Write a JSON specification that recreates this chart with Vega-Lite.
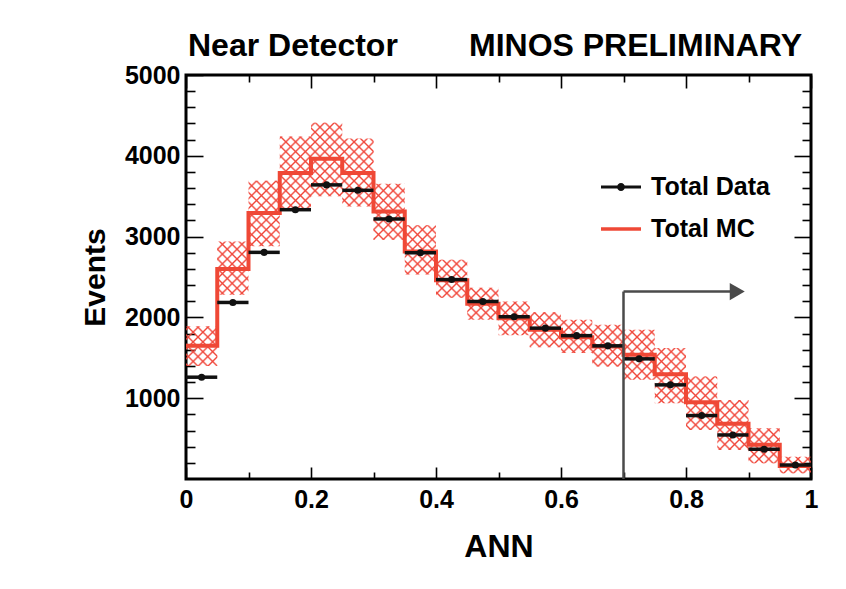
{
  "$schema": "https://vega.github.io/schema/vega-lite/v6.json",
  "width": 625,
  "height": 404,
  "autosize": "none",
  "padding": {"left": 186, "top": 75, "right": 35, "bottom": 110},
  "background": "white",
  "title": {
    "text": "Near Detector\u00a0\u00a0\u00a0\u00a0\u00a0\u00a0\u00a0\u00a0MINOS PRELIMINARY",
    "anchor": "start",
    "frame": "group",
    "font": "Liberation Sans",
    "fontSize": 32,
    "fontWeight": "bold",
    "color": "#000000",
    "offset": 0,
    "dx": 2
  },
  "datasets": {
    "bins": [
      {"ann": 0.025, "lo": 0, "hi": 0.05, "data": 1260, "mc": 1648, "mcLo": 1400, "mcHi": 1890},
      {"ann": 0.075, "lo": 0.05, "hi": 0.1, "data": 2185, "mc": 2600, "mcLo": 2280, "mcHi": 2940},
      {"ann": 0.125, "lo": 0.1, "hi": 0.15, "data": 2805, "mc": 3292, "mcLo": 2880, "mcHi": 3690},
      {"ann": 0.175, "lo": 0.15, "hi": 0.2, "data": 3333, "mc": 3788, "mcLo": 3340, "mcHi": 4240},
      {"ann": 0.225, "lo": 0.2, "hi": 0.25, "data": 3640, "mc": 3965, "mcLo": 3500, "mcHi": 4410},
      {"ann": 0.275, "lo": 0.25, "hi": 0.3, "data": 3573, "mc": 3788, "mcLo": 3374, "mcHi": 4213},
      {"ann": 0.325, "lo": 0.3, "hi": 0.35, "data": 3218, "mc": 3312, "mcLo": 2962, "mcHi": 3655},
      {"ann": 0.375, "lo": 0.35, "hi": 0.4, "data": 2800, "mc": 2817, "mcLo": 2530, "mcHi": 3140},
      {"ann": 0.425, "lo": 0.4, "hi": 0.45, "data": 2468, "mc": 2460, "mcLo": 2243, "mcHi": 2714},
      {"ann": 0.475, "lo": 0.45, "hi": 0.5, "data": 2197, "mc": 2168, "mcLo": 1970, "mcHi": 2367},
      {"ann": 0.525, "lo": 0.5, "hi": 0.55, "data": 2008, "mc": 1990, "mcLo": 1780, "mcHi": 2197},
      {"ann": 0.575, "lo": 0.55, "hi": 0.6, "data": 1867, "mc": 1848, "mcLo": 1630, "mcHi": 2063},
      {"ann": 0.625, "lo": 0.6, "hi": 0.65, "data": 1774, "mc": 1755, "mcLo": 1558, "mcHi": 1970},
      {"ann": 0.675, "lo": 0.65, "hi": 0.7, "data": 1648, "mc": 1640, "mcLo": 1392, "mcHi": 1908},
      {"ann": 0.725, "lo": 0.7, "hi": 0.75, "data": 1487, "mc": 1537, "mcLo": 1227, "mcHi": 1846},
      {"ann": 0.775, "lo": 0.75, "hi": 0.8, "data": 1165, "mc": 1295, "mcLo": 938, "mcHi": 1620},
      {"ann": 0.825, "lo": 0.8, "hi": 0.85, "data": 785, "mc": 950, "mcLo": 607, "mcHi": 1268},
      {"ann": 0.875, "lo": 0.85, "hi": 0.9, "data": 545, "mc": 685, "mcLo": 359, "mcHi": 979},
      {"ann": 0.925, "lo": 0.9, "hi": 0.95, "data": 368, "mc": 425, "mcLo": 195, "mcHi": 628},
      {"ann": 0.975, "lo": 0.95, "hi": 1, "data": 173, "mc": 160, "mcLo": 70, "mcHi": 276}
    ],
    "arrow": [
      {"x0": 0.7, "x1": 0.7, "y0": 0, "y1": 2320},
      {"x0": 0.7, "x1": 0.872, "y0": 2320, "y1": 2320}
    ],
    "head": [
      {"ann": 0.882, "events": 2320}
    ]
  },
  "data": {"name": "bins"},
  "layer": [
    {
      "transform": [{"fold": ["lo", "hi"], "as": ["edge", "xpos"]}],
      "mark": {"type": "area", "strokeWidth": 0, "fill": {"gradient": "linear", "x1": 0, "y1": 0, "x2": 1.1873, "y2": 0.6661, "stops": [
{"offset":0,"color":"rgba(240,70,58,0)"},{"offset":0.002,"color":"#f0463a"},{"offset":0.004,"color":"rgba(240,70,58,0)"},
{"offset":0.01,"color":"rgba(240,70,58,0)"},{"offset":0.012,"color":"#f0463a"},{"offset":0.014,"color":"rgba(240,70,58,0)"},
{"offset":0.02,"color":"rgba(240,70,58,0)"},{"offset":0.022,"color":"#f0463a"},{"offset":0.024,"color":"rgba(240,70,58,0)"},
{"offset":0.03,"color":"rgba(240,70,58,0)"},{"offset":0.032,"color":"#f0463a"},{"offset":0.034,"color":"rgba(240,70,58,0)"},
{"offset":0.04,"color":"rgba(240,70,58,0)"},{"offset":0.042,"color":"#f0463a"},{"offset":0.044,"color":"rgba(240,70,58,0)"},
{"offset":0.05,"color":"rgba(240,70,58,0)"},{"offset":0.052,"color":"#f0463a"},{"offset":0.054,"color":"rgba(240,70,58,0)"},
{"offset":0.06,"color":"rgba(240,70,58,0)"},{"offset":0.062,"color":"#f0463a"},{"offset":0.064,"color":"rgba(240,70,58,0)"},
{"offset":0.07,"color":"rgba(240,70,58,0)"},{"offset":0.072,"color":"#f0463a"},{"offset":0.074,"color":"rgba(240,70,58,0)"},
{"offset":0.08,"color":"rgba(240,70,58,0)"},{"offset":0.082,"color":"#f0463a"},{"offset":0.084,"color":"rgba(240,70,58,0)"},
{"offset":0.09,"color":"rgba(240,70,58,0)"},{"offset":0.092,"color":"#f0463a"},{"offset":0.094,"color":"rgba(240,70,58,0)"},
{"offset":0.1,"color":"rgba(240,70,58,0)"},{"offset":0.102,"color":"#f0463a"},{"offset":0.104,"color":"rgba(240,70,58,0)"},
{"offset":0.11,"color":"rgba(240,70,58,0)"},{"offset":0.112,"color":"#f0463a"},{"offset":0.114,"color":"rgba(240,70,58,0)"},
{"offset":0.12,"color":"rgba(240,70,58,0)"},{"offset":0.122,"color":"#f0463a"},{"offset":0.124,"color":"rgba(240,70,58,0)"},
{"offset":0.13,"color":"rgba(240,70,58,0)"},{"offset":0.132,"color":"#f0463a"},{"offset":0.134,"color":"rgba(240,70,58,0)"},
{"offset":0.14,"color":"rgba(240,70,58,0)"},{"offset":0.142,"color":"#f0463a"},{"offset":0.144,"color":"rgba(240,70,58,0)"},
{"offset":0.15,"color":"rgba(240,70,58,0)"},{"offset":0.152,"color":"#f0463a"},{"offset":0.154,"color":"rgba(240,70,58,0)"},
{"offset":0.16,"color":"rgba(240,70,58,0)"},{"offset":0.162,"color":"#f0463a"},{"offset":0.164,"color":"rgba(240,70,58,0)"},
{"offset":0.17,"color":"rgba(240,70,58,0)"},{"offset":0.172,"color":"#f0463a"},{"offset":0.174,"color":"rgba(240,70,58,0)"},
{"offset":0.18,"color":"rgba(240,70,58,0)"},{"offset":0.182,"color":"#f0463a"},{"offset":0.184,"color":"rgba(240,70,58,0)"},
{"offset":0.19,"color":"rgba(240,70,58,0)"},{"offset":0.192,"color":"#f0463a"},{"offset":0.194,"color":"rgba(240,70,58,0)"},
{"offset":0.2,"color":"rgba(240,70,58,0)"},{"offset":0.202,"color":"#f0463a"},{"offset":0.204,"color":"rgba(240,70,58,0)"},
{"offset":0.21,"color":"rgba(240,70,58,0)"},{"offset":0.212,"color":"#f0463a"},{"offset":0.214,"color":"rgba(240,70,58,0)"},
{"offset":0.22,"color":"rgba(240,70,58,0)"},{"offset":0.222,"color":"#f0463a"},{"offset":0.224,"color":"rgba(240,70,58,0)"},
{"offset":0.23,"color":"rgba(240,70,58,0)"},{"offset":0.232,"color":"#f0463a"},{"offset":0.234,"color":"rgba(240,70,58,0)"},
{"offset":0.24,"color":"rgba(240,70,58,0)"},{"offset":0.242,"color":"#f0463a"},{"offset":0.244,"color":"rgba(240,70,58,0)"},
{"offset":0.25,"color":"rgba(240,70,58,0)"},{"offset":0.252,"color":"#f0463a"},{"offset":0.254,"color":"rgba(240,70,58,0)"},
{"offset":0.26,"color":"rgba(240,70,58,0)"},{"offset":0.262,"color":"#f0463a"},{"offset":0.264,"color":"rgba(240,70,58,0)"},
{"offset":0.27,"color":"rgba(240,70,58,0)"},{"offset":0.272,"color":"#f0463a"},{"offset":0.274,"color":"rgba(240,70,58,0)"},
{"offset":0.28,"color":"rgba(240,70,58,0)"},{"offset":0.282,"color":"#f0463a"},{"offset":0.284,"color":"rgba(240,70,58,0)"},
{"offset":0.29,"color":"rgba(240,70,58,0)"},{"offset":0.292,"color":"#f0463a"},{"offset":0.294,"color":"rgba(240,70,58,0)"},
{"offset":0.3,"color":"rgba(240,70,58,0)"},{"offset":0.302,"color":"#f0463a"},{"offset":0.304,"color":"rgba(240,70,58,0)"},
{"offset":0.31,"color":"rgba(240,70,58,0)"},{"offset":0.312,"color":"#f0463a"},{"offset":0.314,"color":"rgba(240,70,58,0)"},
{"offset":0.32,"color":"rgba(240,70,58,0)"},{"offset":0.322,"color":"#f0463a"},{"offset":0.324,"color":"rgba(240,70,58,0)"},
{"offset":0.33,"color":"rgba(240,70,58,0)"},{"offset":0.332,"color":"#f0463a"},{"offset":0.334,"color":"rgba(240,70,58,0)"},
{"offset":0.34,"color":"rgba(240,70,58,0)"},{"offset":0.342,"color":"#f0463a"},{"offset":0.344,"color":"rgba(240,70,58,0)"},
{"offset":0.35,"color":"rgba(240,70,58,0)"},{"offset":0.352,"color":"#f0463a"},{"offset":0.354,"color":"rgba(240,70,58,0)"},
{"offset":0.36,"color":"rgba(240,70,58,0)"},{"offset":0.362,"color":"#f0463a"},{"offset":0.364,"color":"rgba(240,70,58,0)"},
{"offset":0.37,"color":"rgba(240,70,58,0)"},{"offset":0.372,"color":"#f0463a"},{"offset":0.374,"color":"rgba(240,70,58,0)"},
{"offset":0.38,"color":"rgba(240,70,58,0)"},{"offset":0.382,"color":"#f0463a"},{"offset":0.384,"color":"rgba(240,70,58,0)"},
{"offset":0.39,"color":"rgba(240,70,58,0)"},{"offset":0.392,"color":"#f0463a"},{"offset":0.394,"color":"rgba(240,70,58,0)"},
{"offset":0.4,"color":"rgba(240,70,58,0)"},{"offset":0.402,"color":"#f0463a"},{"offset":0.404,"color":"rgba(240,70,58,0)"},
{"offset":0.41,"color":"rgba(240,70,58,0)"},{"offset":0.412,"color":"#f0463a"},{"offset":0.414,"color":"rgba(240,70,58,0)"},
{"offset":0.42,"color":"rgba(240,70,58,0)"},{"offset":0.422,"color":"#f0463a"},{"offset":0.424,"color":"rgba(240,70,58,0)"},
{"offset":0.43,"color":"rgba(240,70,58,0)"},{"offset":0.432,"color":"#f0463a"},{"offset":0.434,"color":"rgba(240,70,58,0)"},
{"offset":0.44,"color":"rgba(240,70,58,0)"},{"offset":0.442,"color":"#f0463a"},{"offset":0.444,"color":"rgba(240,70,58,0)"},
{"offset":0.45,"color":"rgba(240,70,58,0)"},{"offset":0.452,"color":"#f0463a"},{"offset":0.454,"color":"rgba(240,70,58,0)"},
{"offset":0.46,"color":"rgba(240,70,58,0)"},{"offset":0.462,"color":"#f0463a"},{"offset":0.464,"color":"rgba(240,70,58,0)"},
{"offset":0.47,"color":"rgba(240,70,58,0)"},{"offset":0.472,"color":"#f0463a"},{"offset":0.474,"color":"rgba(240,70,58,0)"},
{"offset":0.48,"color":"rgba(240,70,58,0)"},{"offset":0.482,"color":"#f0463a"},{"offset":0.484,"color":"rgba(240,70,58,0)"},
{"offset":0.49,"color":"rgba(240,70,58,0)"},{"offset":0.492,"color":"#f0463a"},{"offset":0.494,"color":"rgba(240,70,58,0)"},
{"offset":0.5,"color":"rgba(240,70,58,0)"},{"offset":0.502,"color":"#f0463a"},{"offset":0.504,"color":"rgba(240,70,58,0)"},
{"offset":0.51,"color":"rgba(240,70,58,0)"},{"offset":0.512,"color":"#f0463a"},{"offset":0.514,"color":"rgba(240,70,58,0)"},
{"offset":0.52,"color":"rgba(240,70,58,0)"},{"offset":0.522,"color":"#f0463a"},{"offset":0.524,"color":"rgba(240,70,58,0)"},
{"offset":0.53,"color":"rgba(240,70,58,0)"},{"offset":0.532,"color":"#f0463a"},{"offset":0.534,"color":"rgba(240,70,58,0)"},
{"offset":0.54,"color":"rgba(240,70,58,0)"},{"offset":0.542,"color":"#f0463a"},{"offset":0.544,"color":"rgba(240,70,58,0)"},
{"offset":0.55,"color":"rgba(240,70,58,0)"},{"offset":0.552,"color":"#f0463a"},{"offset":0.554,"color":"rgba(240,70,58,0)"},
{"offset":0.56,"color":"rgba(240,70,58,0)"},{"offset":0.562,"color":"#f0463a"},{"offset":0.564,"color":"rgba(240,70,58,0)"},
{"offset":0.57,"color":"rgba(240,70,58,0)"},{"offset":0.572,"color":"#f0463a"},{"offset":0.574,"color":"rgba(240,70,58,0)"},
{"offset":0.58,"color":"rgba(240,70,58,0)"},{"offset":0.582,"color":"#f0463a"},{"offset":0.584,"color":"rgba(240,70,58,0)"},
{"offset":0.59,"color":"rgba(240,70,58,0)"},{"offset":0.592,"color":"#f0463a"},{"offset":0.594,"color":"rgba(240,70,58,0)"},
{"offset":0.6,"color":"rgba(240,70,58,0)"},{"offset":0.602,"color":"#f0463a"},{"offset":0.604,"color":"rgba(240,70,58,0)"},
{"offset":0.61,"color":"rgba(240,70,58,0)"},{"offset":0.612,"color":"#f0463a"},{"offset":0.614,"color":"rgba(240,70,58,0)"},
{"offset":0.62,"color":"rgba(240,70,58,0)"},{"offset":0.622,"color":"#f0463a"},{"offset":0.624,"color":"rgba(240,70,58,0)"},
{"offset":0.63,"color":"rgba(240,70,58,0)"},{"offset":0.632,"color":"#f0463a"},{"offset":0.634,"color":"rgba(240,70,58,0)"},
{"offset":0.64,"color":"rgba(240,70,58,0)"},{"offset":0.642,"color":"#f0463a"},{"offset":0.644,"color":"rgba(240,70,58,0)"},
{"offset":0.65,"color":"rgba(240,70,58,0)"},{"offset":0.652,"color":"#f0463a"},{"offset":0.654,"color":"rgba(240,70,58,0)"},
{"offset":0.66,"color":"rgba(240,70,58,0)"},{"offset":0.662,"color":"#f0463a"},{"offset":0.664,"color":"rgba(240,70,58,0)"},
{"offset":0.67,"color":"rgba(240,70,58,0)"},{"offset":0.672,"color":"#f0463a"},{"offset":0.674,"color":"rgba(240,70,58,0)"},
{"offset":0.68,"color":"rgba(240,70,58,0)"},{"offset":0.682,"color":"#f0463a"},{"offset":0.684,"color":"rgba(240,70,58,0)"},
{"offset":0.69,"color":"rgba(240,70,58,0)"},{"offset":0.692,"color":"#f0463a"},{"offset":0.694,"color":"rgba(240,70,58,0)"},
{"offset":0.7,"color":"rgba(240,70,58,0)"},{"offset":0.702,"color":"#f0463a"},{"offset":0.704,"color":"rgba(240,70,58,0)"},
{"offset":0.71,"color":"rgba(240,70,58,0)"},{"offset":0.712,"color":"#f0463a"},{"offset":0.714,"color":"rgba(240,70,58,0)"},
{"offset":0.72,"color":"rgba(240,70,58,0)"},{"offset":0.722,"color":"#f0463a"},{"offset":0.724,"color":"rgba(240,70,58,0)"},
{"offset":0.73,"color":"rgba(240,70,58,0)"},{"offset":0.732,"color":"#f0463a"},{"offset":0.734,"color":"rgba(240,70,58,0)"},
{"offset":0.74,"color":"rgba(240,70,58,0)"},{"offset":0.742,"color":"#f0463a"},{"offset":0.744,"color":"rgba(240,70,58,0)"},
{"offset":0.75,"color":"rgba(240,70,58,0)"},{"offset":0.752,"color":"#f0463a"},{"offset":0.754,"color":"rgba(240,70,58,0)"},
{"offset":0.76,"color":"rgba(240,70,58,0)"},{"offset":0.762,"color":"#f0463a"},{"offset":0.764,"color":"rgba(240,70,58,0)"},
{"offset":0.77,"color":"rgba(240,70,58,0)"},{"offset":0.772,"color":"#f0463a"},{"offset":0.774,"color":"rgba(240,70,58,0)"},
{"offset":0.78,"color":"rgba(240,70,58,0)"},{"offset":0.782,"color":"#f0463a"},{"offset":0.784,"color":"rgba(240,70,58,0)"},
{"offset":0.79,"color":"rgba(240,70,58,0)"},{"offset":0.792,"color":"#f0463a"},{"offset":0.794,"color":"rgba(240,70,58,0)"},
{"offset":0.8,"color":"rgba(240,70,58,0)"},{"offset":0.802,"color":"#f0463a"},{"offset":0.804,"color":"rgba(240,70,58,0)"},
{"offset":0.81,"color":"rgba(240,70,58,0)"},{"offset":0.812,"color":"#f0463a"},{"offset":0.814,"color":"rgba(240,70,58,0)"},
{"offset":0.82,"color":"rgba(240,70,58,0)"},{"offset":0.822,"color":"#f0463a"},{"offset":0.824,"color":"rgba(240,70,58,0)"},
{"offset":0.83,"color":"rgba(240,70,58,0)"},{"offset":0.832,"color":"#f0463a"},{"offset":0.834,"color":"rgba(240,70,58,0)"},
{"offset":0.84,"color":"rgba(240,70,58,0)"},{"offset":0.842,"color":"#f0463a"},{"offset":0.844,"color":"rgba(240,70,58,0)"},
{"offset":0.85,"color":"rgba(240,70,58,0)"},{"offset":0.852,"color":"#f0463a"},{"offset":0.854,"color":"rgba(240,70,58,0)"},
{"offset":0.86,"color":"rgba(240,70,58,0)"},{"offset":0.862,"color":"#f0463a"},{"offset":0.864,"color":"rgba(240,70,58,0)"},
{"offset":0.87,"color":"rgba(240,70,58,0)"},{"offset":0.872,"color":"#f0463a"},{"offset":0.874,"color":"rgba(240,70,58,0)"},
{"offset":0.88,"color":"rgba(240,70,58,0)"},{"offset":0.882,"color":"#f0463a"},{"offset":0.884,"color":"rgba(240,70,58,0)"},
{"offset":0.89,"color":"rgba(240,70,58,0)"},{"offset":0.892,"color":"#f0463a"},{"offset":0.894,"color":"rgba(240,70,58,0)"},
{"offset":0.9,"color":"rgba(240,70,58,0)"},{"offset":0.902,"color":"#f0463a"},{"offset":0.904,"color":"rgba(240,70,58,0)"},
{"offset":0.91,"color":"rgba(240,70,58,0)"},{"offset":0.912,"color":"#f0463a"},{"offset":0.914,"color":"rgba(240,70,58,0)"},
{"offset":0.92,"color":"rgba(240,70,58,0)"},{"offset":0.922,"color":"#f0463a"},{"offset":0.924,"color":"rgba(240,70,58,0)"},
{"offset":0.93,"color":"rgba(240,70,58,0)"},{"offset":0.932,"color":"#f0463a"},{"offset":0.934,"color":"rgba(240,70,58,0)"},
{"offset":0.94,"color":"rgba(240,70,58,0)"},{"offset":0.942,"color":"#f0463a"},{"offset":0.944,"color":"rgba(240,70,58,0)"},
{"offset":0.95,"color":"rgba(240,70,58,0)"},{"offset":0.952,"color":"#f0463a"},{"offset":0.954,"color":"rgba(240,70,58,0)"},
{"offset":0.96,"color":"rgba(240,70,58,0)"},{"offset":0.962,"color":"#f0463a"},{"offset":0.964,"color":"rgba(240,70,58,0)"},
{"offset":0.97,"color":"rgba(240,70,58,0)"},{"offset":0.972,"color":"#f0463a"},{"offset":0.974,"color":"rgba(240,70,58,0)"},
{"offset":0.98,"color":"rgba(240,70,58,0)"},{"offset":0.982,"color":"#f0463a"},{"offset":0.984,"color":"rgba(240,70,58,0)"},
{"offset":0.99,"color":"rgba(240,70,58,0)"},{"offset":0.992,"color":"#f0463a"},{"offset":0.994,"color":"rgba(240,70,58,0)"}
      ]}},
      "encoding": {
        "x": {
          "field": "xpos", "type": "quantitative",
          "scale": {"domain": [0, 1], "nice": false, "zero": false},
          "axis": {
            "orient": "bottom", "values": [0, 0.2, 0.4, 0.6, 0.8, 1], "format": "~g",
            "tickSize": -12, "labelPadding": 20, "labelFlush": false, "labelOverlap": false,
            "title": "ANN", "titleFontSize": 32, "titlePadding": 19
          }
        },
        "y": {
          "field": "mcLo", "type": "quantitative",
          "scale": {"domain": [0, 5000], "nice": false, "zero": true},
          "axis": {
            "orient": "left", "values": [1000, 2000, 3000, 4000, 5000], "format": "d",
            "tickSize": -17, "labelPadding": 23, "labelOverlap": false,
            "title": "Events", "titleFontSize": 30, "titlePadding": 14
          }
        },
        "y2": {"field": "mcHi"},
        "order": [
          {"field": "xpos", "type": "quantitative"},
          {"field": "edge", "type": "nominal"}
        ]
      }
    },
    {
      "transform": [{"fold": ["lo", "hi"], "as": ["edge", "xpos"]}],
      "mark": {"type": "area", "strokeWidth": 0, "fill": {"gradient": "linear", "x1": 0, "y1": 1, "x2": 1.1873, "y2": 0.3339, "stops": [
{"offset":0,"color":"rgba(240,70,58,0)"},{"offset":0.002,"color":"#f0463a"},{"offset":0.004,"color":"rgba(240,70,58,0)"},
{"offset":0.01,"color":"rgba(240,70,58,0)"},{"offset":0.012,"color":"#f0463a"},{"offset":0.014,"color":"rgba(240,70,58,0)"},
{"offset":0.02,"color":"rgba(240,70,58,0)"},{"offset":0.022,"color":"#f0463a"},{"offset":0.024,"color":"rgba(240,70,58,0)"},
{"offset":0.03,"color":"rgba(240,70,58,0)"},{"offset":0.032,"color":"#f0463a"},{"offset":0.034,"color":"rgba(240,70,58,0)"},
{"offset":0.04,"color":"rgba(240,70,58,0)"},{"offset":0.042,"color":"#f0463a"},{"offset":0.044,"color":"rgba(240,70,58,0)"},
{"offset":0.05,"color":"rgba(240,70,58,0)"},{"offset":0.052,"color":"#f0463a"},{"offset":0.054,"color":"rgba(240,70,58,0)"},
{"offset":0.06,"color":"rgba(240,70,58,0)"},{"offset":0.062,"color":"#f0463a"},{"offset":0.064,"color":"rgba(240,70,58,0)"},
{"offset":0.07,"color":"rgba(240,70,58,0)"},{"offset":0.072,"color":"#f0463a"},{"offset":0.074,"color":"rgba(240,70,58,0)"},
{"offset":0.08,"color":"rgba(240,70,58,0)"},{"offset":0.082,"color":"#f0463a"},{"offset":0.084,"color":"rgba(240,70,58,0)"},
{"offset":0.09,"color":"rgba(240,70,58,0)"},{"offset":0.092,"color":"#f0463a"},{"offset":0.094,"color":"rgba(240,70,58,0)"},
{"offset":0.1,"color":"rgba(240,70,58,0)"},{"offset":0.102,"color":"#f0463a"},{"offset":0.104,"color":"rgba(240,70,58,0)"},
{"offset":0.11,"color":"rgba(240,70,58,0)"},{"offset":0.112,"color":"#f0463a"},{"offset":0.114,"color":"rgba(240,70,58,0)"},
{"offset":0.12,"color":"rgba(240,70,58,0)"},{"offset":0.122,"color":"#f0463a"},{"offset":0.124,"color":"rgba(240,70,58,0)"},
{"offset":0.13,"color":"rgba(240,70,58,0)"},{"offset":0.132,"color":"#f0463a"},{"offset":0.134,"color":"rgba(240,70,58,0)"},
{"offset":0.14,"color":"rgba(240,70,58,0)"},{"offset":0.142,"color":"#f0463a"},{"offset":0.144,"color":"rgba(240,70,58,0)"},
{"offset":0.15,"color":"rgba(240,70,58,0)"},{"offset":0.152,"color":"#f0463a"},{"offset":0.154,"color":"rgba(240,70,58,0)"},
{"offset":0.16,"color":"rgba(240,70,58,0)"},{"offset":0.162,"color":"#f0463a"},{"offset":0.164,"color":"rgba(240,70,58,0)"},
{"offset":0.17,"color":"rgba(240,70,58,0)"},{"offset":0.172,"color":"#f0463a"},{"offset":0.174,"color":"rgba(240,70,58,0)"},
{"offset":0.18,"color":"rgba(240,70,58,0)"},{"offset":0.182,"color":"#f0463a"},{"offset":0.184,"color":"rgba(240,70,58,0)"},
{"offset":0.19,"color":"rgba(240,70,58,0)"},{"offset":0.192,"color":"#f0463a"},{"offset":0.194,"color":"rgba(240,70,58,0)"},
{"offset":0.2,"color":"rgba(240,70,58,0)"},{"offset":0.202,"color":"#f0463a"},{"offset":0.204,"color":"rgba(240,70,58,0)"},
{"offset":0.21,"color":"rgba(240,70,58,0)"},{"offset":0.212,"color":"#f0463a"},{"offset":0.214,"color":"rgba(240,70,58,0)"},
{"offset":0.22,"color":"rgba(240,70,58,0)"},{"offset":0.222,"color":"#f0463a"},{"offset":0.224,"color":"rgba(240,70,58,0)"},
{"offset":0.23,"color":"rgba(240,70,58,0)"},{"offset":0.232,"color":"#f0463a"},{"offset":0.234,"color":"rgba(240,70,58,0)"},
{"offset":0.24,"color":"rgba(240,70,58,0)"},{"offset":0.242,"color":"#f0463a"},{"offset":0.244,"color":"rgba(240,70,58,0)"},
{"offset":0.25,"color":"rgba(240,70,58,0)"},{"offset":0.252,"color":"#f0463a"},{"offset":0.254,"color":"rgba(240,70,58,0)"},
{"offset":0.26,"color":"rgba(240,70,58,0)"},{"offset":0.262,"color":"#f0463a"},{"offset":0.264,"color":"rgba(240,70,58,0)"},
{"offset":0.27,"color":"rgba(240,70,58,0)"},{"offset":0.272,"color":"#f0463a"},{"offset":0.274,"color":"rgba(240,70,58,0)"},
{"offset":0.28,"color":"rgba(240,70,58,0)"},{"offset":0.282,"color":"#f0463a"},{"offset":0.284,"color":"rgba(240,70,58,0)"},
{"offset":0.29,"color":"rgba(240,70,58,0)"},{"offset":0.292,"color":"#f0463a"},{"offset":0.294,"color":"rgba(240,70,58,0)"},
{"offset":0.3,"color":"rgba(240,70,58,0)"},{"offset":0.302,"color":"#f0463a"},{"offset":0.304,"color":"rgba(240,70,58,0)"},
{"offset":0.31,"color":"rgba(240,70,58,0)"},{"offset":0.312,"color":"#f0463a"},{"offset":0.314,"color":"rgba(240,70,58,0)"},
{"offset":0.32,"color":"rgba(240,70,58,0)"},{"offset":0.322,"color":"#f0463a"},{"offset":0.324,"color":"rgba(240,70,58,0)"},
{"offset":0.33,"color":"rgba(240,70,58,0)"},{"offset":0.332,"color":"#f0463a"},{"offset":0.334,"color":"rgba(240,70,58,0)"},
{"offset":0.34,"color":"rgba(240,70,58,0)"},{"offset":0.342,"color":"#f0463a"},{"offset":0.344,"color":"rgba(240,70,58,0)"},
{"offset":0.35,"color":"rgba(240,70,58,0)"},{"offset":0.352,"color":"#f0463a"},{"offset":0.354,"color":"rgba(240,70,58,0)"},
{"offset":0.36,"color":"rgba(240,70,58,0)"},{"offset":0.362,"color":"#f0463a"},{"offset":0.364,"color":"rgba(240,70,58,0)"},
{"offset":0.37,"color":"rgba(240,70,58,0)"},{"offset":0.372,"color":"#f0463a"},{"offset":0.374,"color":"rgba(240,70,58,0)"},
{"offset":0.38,"color":"rgba(240,70,58,0)"},{"offset":0.382,"color":"#f0463a"},{"offset":0.384,"color":"rgba(240,70,58,0)"},
{"offset":0.39,"color":"rgba(240,70,58,0)"},{"offset":0.392,"color":"#f0463a"},{"offset":0.394,"color":"rgba(240,70,58,0)"},
{"offset":0.4,"color":"rgba(240,70,58,0)"},{"offset":0.402,"color":"#f0463a"},{"offset":0.404,"color":"rgba(240,70,58,0)"},
{"offset":0.41,"color":"rgba(240,70,58,0)"},{"offset":0.412,"color":"#f0463a"},{"offset":0.414,"color":"rgba(240,70,58,0)"},
{"offset":0.42,"color":"rgba(240,70,58,0)"},{"offset":0.422,"color":"#f0463a"},{"offset":0.424,"color":"rgba(240,70,58,0)"},
{"offset":0.43,"color":"rgba(240,70,58,0)"},{"offset":0.432,"color":"#f0463a"},{"offset":0.434,"color":"rgba(240,70,58,0)"},
{"offset":0.44,"color":"rgba(240,70,58,0)"},{"offset":0.442,"color":"#f0463a"},{"offset":0.444,"color":"rgba(240,70,58,0)"},
{"offset":0.45,"color":"rgba(240,70,58,0)"},{"offset":0.452,"color":"#f0463a"},{"offset":0.454,"color":"rgba(240,70,58,0)"},
{"offset":0.46,"color":"rgba(240,70,58,0)"},{"offset":0.462,"color":"#f0463a"},{"offset":0.464,"color":"rgba(240,70,58,0)"},
{"offset":0.47,"color":"rgba(240,70,58,0)"},{"offset":0.472,"color":"#f0463a"},{"offset":0.474,"color":"rgba(240,70,58,0)"},
{"offset":0.48,"color":"rgba(240,70,58,0)"},{"offset":0.482,"color":"#f0463a"},{"offset":0.484,"color":"rgba(240,70,58,0)"},
{"offset":0.49,"color":"rgba(240,70,58,0)"},{"offset":0.492,"color":"#f0463a"},{"offset":0.494,"color":"rgba(240,70,58,0)"},
{"offset":0.5,"color":"rgba(240,70,58,0)"},{"offset":0.502,"color":"#f0463a"},{"offset":0.504,"color":"rgba(240,70,58,0)"},
{"offset":0.51,"color":"rgba(240,70,58,0)"},{"offset":0.512,"color":"#f0463a"},{"offset":0.514,"color":"rgba(240,70,58,0)"},
{"offset":0.52,"color":"rgba(240,70,58,0)"},{"offset":0.522,"color":"#f0463a"},{"offset":0.524,"color":"rgba(240,70,58,0)"},
{"offset":0.53,"color":"rgba(240,70,58,0)"},{"offset":0.532,"color":"#f0463a"},{"offset":0.534,"color":"rgba(240,70,58,0)"},
{"offset":0.54,"color":"rgba(240,70,58,0)"},{"offset":0.542,"color":"#f0463a"},{"offset":0.544,"color":"rgba(240,70,58,0)"},
{"offset":0.55,"color":"rgba(240,70,58,0)"},{"offset":0.552,"color":"#f0463a"},{"offset":0.554,"color":"rgba(240,70,58,0)"},
{"offset":0.56,"color":"rgba(240,70,58,0)"},{"offset":0.562,"color":"#f0463a"},{"offset":0.564,"color":"rgba(240,70,58,0)"},
{"offset":0.57,"color":"rgba(240,70,58,0)"},{"offset":0.572,"color":"#f0463a"},{"offset":0.574,"color":"rgba(240,70,58,0)"},
{"offset":0.58,"color":"rgba(240,70,58,0)"},{"offset":0.582,"color":"#f0463a"},{"offset":0.584,"color":"rgba(240,70,58,0)"},
{"offset":0.59,"color":"rgba(240,70,58,0)"},{"offset":0.592,"color":"#f0463a"},{"offset":0.594,"color":"rgba(240,70,58,0)"},
{"offset":0.6,"color":"rgba(240,70,58,0)"},{"offset":0.602,"color":"#f0463a"},{"offset":0.604,"color":"rgba(240,70,58,0)"},
{"offset":0.61,"color":"rgba(240,70,58,0)"},{"offset":0.612,"color":"#f0463a"},{"offset":0.614,"color":"rgba(240,70,58,0)"},
{"offset":0.62,"color":"rgba(240,70,58,0)"},{"offset":0.622,"color":"#f0463a"},{"offset":0.624,"color":"rgba(240,70,58,0)"},
{"offset":0.63,"color":"rgba(240,70,58,0)"},{"offset":0.632,"color":"#f0463a"},{"offset":0.634,"color":"rgba(240,70,58,0)"},
{"offset":0.64,"color":"rgba(240,70,58,0)"},{"offset":0.642,"color":"#f0463a"},{"offset":0.644,"color":"rgba(240,70,58,0)"},
{"offset":0.65,"color":"rgba(240,70,58,0)"},{"offset":0.652,"color":"#f0463a"},{"offset":0.654,"color":"rgba(240,70,58,0)"},
{"offset":0.66,"color":"rgba(240,70,58,0)"},{"offset":0.662,"color":"#f0463a"},{"offset":0.664,"color":"rgba(240,70,58,0)"},
{"offset":0.67,"color":"rgba(240,70,58,0)"},{"offset":0.672,"color":"#f0463a"},{"offset":0.674,"color":"rgba(240,70,58,0)"},
{"offset":0.68,"color":"rgba(240,70,58,0)"},{"offset":0.682,"color":"#f0463a"},{"offset":0.684,"color":"rgba(240,70,58,0)"},
{"offset":0.69,"color":"rgba(240,70,58,0)"},{"offset":0.692,"color":"#f0463a"},{"offset":0.694,"color":"rgba(240,70,58,0)"},
{"offset":0.7,"color":"rgba(240,70,58,0)"},{"offset":0.702,"color":"#f0463a"},{"offset":0.704,"color":"rgba(240,70,58,0)"},
{"offset":0.71,"color":"rgba(240,70,58,0)"},{"offset":0.712,"color":"#f0463a"},{"offset":0.714,"color":"rgba(240,70,58,0)"},
{"offset":0.72,"color":"rgba(240,70,58,0)"},{"offset":0.722,"color":"#f0463a"},{"offset":0.724,"color":"rgba(240,70,58,0)"},
{"offset":0.73,"color":"rgba(240,70,58,0)"},{"offset":0.732,"color":"#f0463a"},{"offset":0.734,"color":"rgba(240,70,58,0)"},
{"offset":0.74,"color":"rgba(240,70,58,0)"},{"offset":0.742,"color":"#f0463a"},{"offset":0.744,"color":"rgba(240,70,58,0)"},
{"offset":0.75,"color":"rgba(240,70,58,0)"},{"offset":0.752,"color":"#f0463a"},{"offset":0.754,"color":"rgba(240,70,58,0)"},
{"offset":0.76,"color":"rgba(240,70,58,0)"},{"offset":0.762,"color":"#f0463a"},{"offset":0.764,"color":"rgba(240,70,58,0)"},
{"offset":0.77,"color":"rgba(240,70,58,0)"},{"offset":0.772,"color":"#f0463a"},{"offset":0.774,"color":"rgba(240,70,58,0)"},
{"offset":0.78,"color":"rgba(240,70,58,0)"},{"offset":0.782,"color":"#f0463a"},{"offset":0.784,"color":"rgba(240,70,58,0)"},
{"offset":0.79,"color":"rgba(240,70,58,0)"},{"offset":0.792,"color":"#f0463a"},{"offset":0.794,"color":"rgba(240,70,58,0)"},
{"offset":0.8,"color":"rgba(240,70,58,0)"},{"offset":0.802,"color":"#f0463a"},{"offset":0.804,"color":"rgba(240,70,58,0)"},
{"offset":0.81,"color":"rgba(240,70,58,0)"},{"offset":0.812,"color":"#f0463a"},{"offset":0.814,"color":"rgba(240,70,58,0)"},
{"offset":0.82,"color":"rgba(240,70,58,0)"},{"offset":0.822,"color":"#f0463a"},{"offset":0.824,"color":"rgba(240,70,58,0)"},
{"offset":0.83,"color":"rgba(240,70,58,0)"},{"offset":0.832,"color":"#f0463a"},{"offset":0.834,"color":"rgba(240,70,58,0)"},
{"offset":0.84,"color":"rgba(240,70,58,0)"},{"offset":0.842,"color":"#f0463a"},{"offset":0.844,"color":"rgba(240,70,58,0)"},
{"offset":0.85,"color":"rgba(240,70,58,0)"},{"offset":0.852,"color":"#f0463a"},{"offset":0.854,"color":"rgba(240,70,58,0)"},
{"offset":0.86,"color":"rgba(240,70,58,0)"},{"offset":0.862,"color":"#f0463a"},{"offset":0.864,"color":"rgba(240,70,58,0)"},
{"offset":0.87,"color":"rgba(240,70,58,0)"},{"offset":0.872,"color":"#f0463a"},{"offset":0.874,"color":"rgba(240,70,58,0)"},
{"offset":0.88,"color":"rgba(240,70,58,0)"},{"offset":0.882,"color":"#f0463a"},{"offset":0.884,"color":"rgba(240,70,58,0)"},
{"offset":0.89,"color":"rgba(240,70,58,0)"},{"offset":0.892,"color":"#f0463a"},{"offset":0.894,"color":"rgba(240,70,58,0)"},
{"offset":0.9,"color":"rgba(240,70,58,0)"},{"offset":0.902,"color":"#f0463a"},{"offset":0.904,"color":"rgba(240,70,58,0)"},
{"offset":0.91,"color":"rgba(240,70,58,0)"},{"offset":0.912,"color":"#f0463a"},{"offset":0.914,"color":"rgba(240,70,58,0)"},
{"offset":0.92,"color":"rgba(240,70,58,0)"},{"offset":0.922,"color":"#f0463a"},{"offset":0.924,"color":"rgba(240,70,58,0)"},
{"offset":0.93,"color":"rgba(240,70,58,0)"},{"offset":0.932,"color":"#f0463a"},{"offset":0.934,"color":"rgba(240,70,58,0)"},
{"offset":0.94,"color":"rgba(240,70,58,0)"},{"offset":0.942,"color":"#f0463a"},{"offset":0.944,"color":"rgba(240,70,58,0)"},
{"offset":0.95,"color":"rgba(240,70,58,0)"},{"offset":0.952,"color":"#f0463a"},{"offset":0.954,"color":"rgba(240,70,58,0)"},
{"offset":0.96,"color":"rgba(240,70,58,0)"},{"offset":0.962,"color":"#f0463a"},{"offset":0.964,"color":"rgba(240,70,58,0)"},
{"offset":0.97,"color":"rgba(240,70,58,0)"},{"offset":0.972,"color":"#f0463a"},{"offset":0.974,"color":"rgba(240,70,58,0)"},
{"offset":0.98,"color":"rgba(240,70,58,0)"},{"offset":0.982,"color":"#f0463a"},{"offset":0.984,"color":"rgba(240,70,58,0)"},
{"offset":0.99,"color":"rgba(240,70,58,0)"},{"offset":0.992,"color":"#f0463a"},{"offset":0.994,"color":"rgba(240,70,58,0)"}
      ]}},
      "encoding": {
        "x": {"field": "xpos", "type": "quantitative", "axis": null},
        "y": {"field": "mcLo", "type": "quantitative", "axis": null},
        "y2": {"field": "mcHi"},
        "order": [
          {"field": "xpos", "type": "quantitative"},
          {"field": "edge", "type": "nominal"}
        ]
      }
    },
    {
      "transform": [{"fold": ["lo", "hi"], "as": ["edge", "xpos"]}],
      "mark": {"type": "line", "strokeWidth": 4, "strokeJoin": "miter"},
      "encoding": {
        "x": {
          "field": "xpos", "type": "quantitative",
          "axis": {"orient": "bottom", "values": [0.1, 0.3, 0.5, 0.7, 0.9], "tickSize": -7, "labels": false, "title": null}
        },
        "y": {
          "field": "mc", "type": "quantitative",
          "axis": {"orient": "left", "values": [200, 400, 600, 800, 1200, 1400, 1600, 1800, 2200, 2400, 2600, 2800, 3200, 3400, 3600, 3800, 4200, 4400, 4600, 4800], "tickSize": -9, "labels": false, "title": null}
        },
        "order": [
          {"field": "xpos", "type": "quantitative"},
          {"field": "edge", "type": "nominal"}
        ],
        "color": {
          "datum": "Total MC", "type": "nominal",
          "scale": {"domain": ["Total Data", "Total MC"], "range": ["#111111", "#ef4836"]},
          "legend": {
            "orient": "none", "legendX": 415, "legendY": 92, "title": null,
            "padding": 0, "symbolSize": 1600, "rowPadding": 9, "labelOffset": 10,
            "labelFont": "Liberation Sans", "labelFontSize": 25, "labelFontWeight": "bold",
            "labelColor": "#000000", "labelLimit": 400,
            "encode": {
              "symbols": {
                "update": {
                  "shape": {"signal": "datum.value === 'Total Data' ? 'M-1,-0.075H1V0.075H-1Z M0.2,0A0.2,0.2,0,1,1,-0.2,0A0.2,0.2,0,1,1,0.2,0Z' : 'M-1,-0.09H1V0.09H-1Z'"},
                  "fill": {"scale": "color", "field": "value"},
                  "stroke": {"value": "transparent"},
                  "strokeWidth": {"value": 0},
                  "opacity": {"value": 1}
                }
              }
            }
          }
        }
      }
    },
    {
      "mark": {"type": "rule", "strokeWidth": 3.5},
      "encoding": {
        "x": {
          "field": "lo", "type": "quantitative",
          "axis": {"orient": "top", "values": [0, 0.2, 0.4, 0.6, 0.8, 1], "tickSize": -13, "labels": false, "title": null}
        },
        "x2": {"field": "hi"},
        "y": {
          "field": "data", "type": "quantitative",
          "axis": {"orient": "right", "values": [1000, 2000, 3000, 4000], "tickSize": -17, "labels": false, "title": null}
        },
        "color": {"datum": "Total Data", "type": "nominal"}
      }
    },
    {
      "mark": {"type": "point", "filled": true, "size": 50, "opacity": 1},
      "encoding": {
        "x": {
          "field": "ann", "type": "quantitative",
          "axis": {"orient": "top", "values": [0.1, 0.3, 0.5, 0.7, 0.9], "tickSize": -7, "labels": false, "title": null}
        },
        "y": {
          "field": "data", "type": "quantitative",
          "axis": {"orient": "right", "values": [200, 400, 600, 800, 1200, 1400, 1600, 1800, 2200, 2400, 2600, 2800, 3200, 3400, 3600, 3800, 4200, 4400, 4600, 4800], "tickSize": -9, "labels": false, "title": null}
        },
        "color": {"datum": "Total Data", "type": "nominal"}
      }
    },
    {
      "data": {"name": "arrow"},
      "mark": {"type": "rule", "color": "#4a4a4a", "strokeWidth": 2.5},
      "encoding": {
        "x": {"field": "x0", "type": "quantitative", "axis": null},
        "x2": {"field": "x1"},
        "y": {"field": "y0", "type": "quantitative", "axis": null},
        "y2": {"field": "y1"}
      }
    },
    {
      "data": {"name": "head"},
      "mark": {"type": "point", "shape": "triangle-right", "filled": true, "size": 300, "color": "#4a4a4a", "opacity": 1, "strokeWidth": 0},
      "encoding": {
        "x": {"field": "ann", "type": "quantitative", "axis": null},
        "y": {"field": "events", "type": "quantitative", "axis": null}
      }
    }
  ],
  "resolve": {"axis": {"x": "independent", "y": "independent"}},
  "config": {
    "view": {"stroke": "#000000", "strokeWidth": 3},
    "font": "Liberation Sans",
    "axis": {
      "grid": false, "domain": false, "tickColor": "#000000", "tickWidth": 1.6,
      "labelFont": "Liberation Sans", "labelFontWeight": "bold", "labelFontSize": 25, "labelColor": "#000000",
      "titleFont": "Liberation Sans", "titleFontWeight": "bold", "titleColor": "#000000"
    }
  }
}
